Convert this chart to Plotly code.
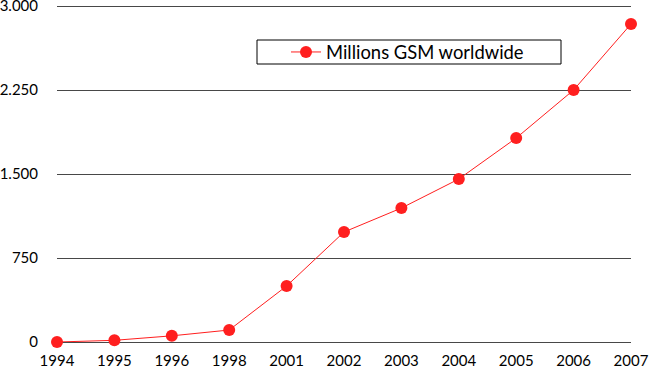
import plotly.graph_objects as go

years = ["1994", "1995", "1996", "1998", "2001", "2002", "2003", "2004", "2005", "2006", "2007"]
subscribers = [0, 15, 55, 107, 500, 982, 1196, 1455, 1821, 2250, 2839]
y_ticks = [0, 750, 1500, 2250, 3000]
series_name = "Millions GSM worldwide"

W, H = 649, 369
L, R, T, B = 57, 18, 3, 27
pw, ph = W - L - R, H - T - B
y_top = 3000 * ph / 336.0  # keeps 3000 at the same pixel row as in the reference

def px_x(x):
    return (x - L) / pw

def px_y(y):
    return (H - B - y) / ph

fig = go.Figure()
fig.add_trace(go.Scatter(
    x=years, y=subscribers, mode="lines+markers", name=series_name,
    line=dict(color="#ff1f1f", width=1),
    marker=dict(color="#ff1f1f", size=12),
    cliponaxis=False,
))

fig.add_shape(type="rect", xref="paper", yref="paper",
              x0=px_x(257), x1=px_x(561), y0=px_y(64), y1=px_y(40),
              line=dict(color="black", width=1), fillcolor="white", layer="below")

fig.update_layout(
    width=W, height=H,
    margin=dict(l=L, r=R, t=T, b=B, pad=0, autoexpand=False),
    paper_bgcolor="white", plot_bgcolor="white",
    separators=",.",
    font=dict(family="Lato, sans-serif", size=15, color="black"),
    showlegend=True,
    legend=dict(x=px_x(286), y=px_y(52), xanchor="left", yanchor="middle",
                bgcolor="rgba(0,0,0,0)", borderwidth=0,
                font=dict(size=18.4)),
    xaxis=dict(type="category", range=[0, len(years) - 1], showgrid=False,
               showline=False, zeroline=False, ticks="", ticklabelstandoff=8,
               automargin=False, ticklabeloverflow="allow"),
    yaxis=dict(range=[0, y_top], tickvals=y_ticks, tickformat=",d",
               showgrid=True, gridcolor="#484848", gridwidth=1,
               zeroline=True, zerolinecolor="#484848", zerolinewidth=1,
               showline=False, ticks="", ticklabelstandoff=18,
               automargin=False, ticklabeloverflow="allow"),
)

fig.write_html("out.html", config={"displayModeBar": False},
               post_script="document.body.style.margin='0';document.body.style.overflow='hidden';")
